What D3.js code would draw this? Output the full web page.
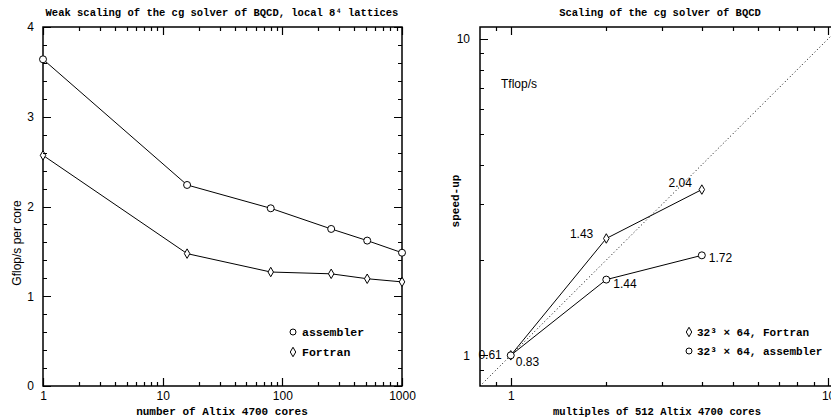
<!DOCTYPE html>
<html>
<head>
<meta charset="utf-8">
<script src="https://d3js.org/d3.v7.min.js"></script>
<style>
  body { margin: 0; background: #fff; }
  svg { display: block; }
  .lbl text { font-family: "Liberation Sans", Arial, sans-serif; font-size: 12px; fill: #000; }
  .mono { font-family: "Liberation Mono", "DejaVu Sans Mono", monospace; font-weight: bold; fill: #000; }
  .sans { font-family: "Liberation Sans", Arial, sans-serif; fill: #000; }
</style>
</head>
<body>
<svg id="plot"></svg>
<script>
// left panel: weak scaling, Gflop/s per core
var cores = [1, 16, 80, 256, 512, 1000];
var assemblerGflops = [3.64, 2.24, 1.98, 1.75, 1.62, 1.485];
var fortranGflops = [2.57, 1.475, 1.27, 1.25, 1.195, 1.16];

var leftXMajor = [1, 10, 100, 1000];
var leftXMinor = [2, 3, 4, 5, 6, 7, 8, 9, 20, 30, 40, 50, 60, 70, 80, 90, 200, 300, 400, 500, 600, 700, 800, 900];
var leftYMajor = [0, 1, 2, 3, 4];
var leftYMinor = [0.2, 0.4, 0.6, 0.8, 1.2, 1.4, 1.6, 1.8, 2.2, 2.4, 2.6, 2.8, 3.2, 3.4, 3.6, 3.8];

// right panel: speed-up, with Tflop/s labels
var multiples = [1, 2, 4];
var fortranSpeedup = [1, 2.34, 3.34];
var assemblerSpeedup = [1, 1.735, 2.07];
var fortranTflops = ["0.61", "1.43", "2.04"];
var assemblerTflops = ["0.83", "1.44", "1.72"];

var rightMajor = [1, 10];
var rightMinor = [0.9, 2, 3, 4, 5, 6, 7, 8, 9];

var svg = d3.select("#plot").attr("width", 831).attr("height", 420);

var diamond = d3.symbol().type(d3.symbolDiamond).size(26);

var xL = d3.scaleLog().domain([1, 1000]).range([43, 402]);
var yL = d3.scaleLinear().domain([0, 4]).range([386, 27]);
var xR = d3.scaleLog().domain([0.8, 10.9]).range([480, 840]);
var yR = d3.scaleLog().domain([0.8, 10.9]).range([386, 27]);

// labels and frame
var makeFrame = function(g, xScale, yScale, xMajor, yMajor, yPad)
{
    var x0 = xScale.range()[0], x1 = xScale.range()[1];
    var y0 = yScale.range()[0], y1 = yScale.range()[1];

    var bx = g.append("g").classed("lbl", true)
        .attr("transform", "translate(0," + y0 + ")")
        .call(d3.axisBottom(xScale).tickValues(xMajor).tickSize(0).tickPadding(5).tickFormat(d3.format("d")));
    bx.select(".domain").remove();
    var ly = g.append("g").classed("lbl", true)
        .attr("transform", "translate(" + x0 + ",0)")
        .call(d3.axisLeft(yScale).tickValues(yMajor).tickSize(0).tickPadding(yPad).tickFormat(d3.format("d")));
    ly.select(".domain").remove();

    g.append("path")
        .attr("d", "M" + x0 + "," + y1 + "H" + x1 + "V" + y0 + "H" + x0 + "Z")
        .attr("fill", "none").attr("stroke", "#000").attr("stroke-width", 1.5);
};

// short inward marks along one side of the frame, as one path
var drawMarks = function(g, vals, scale, side, pos, len)
{
    var d = vals.map(function(v) {
        var p = Math.round(scale(v)) + 0.5;
        if (side == "bottom") return "M" + p + "," + pos + "V" + (pos - len);
        if (side == "top") return "M" + p + "," + pos + "V" + (pos + len);
        if (side == "left") return "M" + pos + "," + p + "H" + (pos + len);
        return "M" + pos + "," + p + "H" + (pos - len);
    }).join("");
    g.append("path").attr("d", d)
        .attr("fill", "none").attr("stroke", "#000").attr("stroke-width", 1.2);
};

var makeMarks = function(g, xScale, yScale, xMajor, xMinor, yMajor, yMinor)
{
    var x0 = xScale.range()[0], x1 = xScale.range()[1];
    var y0 = yScale.range()[0], y1 = yScale.range()[1];
    drawMarks(g, xMajor, xScale, "bottom", y0, 8);
    drawMarks(g, xMinor, xScale, "bottom", y0, 4);
    drawMarks(g, xMajor, xScale, "top", y1, 8);
    drawMarks(g, xMinor, xScale, "top", y1, 4);
    drawMarks(g, yMajor, yScale, "left", x0, 8);
    drawMarks(g, yMinor, yScale, "left", x0, 4);
    drawMarks(g, yMajor, yScale, "right", x1, 8);
    drawMarks(g, yMinor, yScale, "right", x1, 4);
};

var drawSeries = function(g, xs, ys, xScale, yScale, marker)
{
    var line = d3.line()
        .x(function(d, i) { return xScale(xs[i]); })
        .y(function(d) { return yScale(d); });

    g.append("path")
        .datum(ys)
        .attr("d", line)
        .attr("fill", "none")
        .attr("stroke", "#000")
        .attr("stroke-width", 1);

    var pts = g.selectAll(null)
        .data(ys)
        .enter();

    if (marker == "circle") {
        pts.append("circle")
            .attr("cx", function(d, i) { return xScale(xs[i]); })
            .attr("cy", function(d) { return yScale(d); })
            .attr("r", 3.5)
            .attr("fill", "#fff").attr("stroke", "#000").attr("stroke-width", 1);
    } else {
        pts.append("path")
            .attr("d", diamond)
            .attr("transform", function(d, i) { return "translate(" + xScale(xs[i]) + "," + yScale(d) + ")"; })
            .attr("fill", "#fff").attr("stroke", "#000").attr("stroke-width", 1);
    }
};

//----- left panel
var left = svg.append("g");
makeFrame(left, xL, yL, leftXMajor, leftYMajor, 9);

var leftPlot = left.append("g");
drawSeries(leftPlot, cores, assemblerGflops, xL, yL, "circle");
drawSeries(leftPlot, cores, fortranGflops, xL, yL, "diamond");

left.append("text").classed("mono", true)
    .attr("x", 222).attr("y", 16).attr("text-anchor", "middle")
    .style("font-size", "10.5px")
    .text("Weak scaling of the cg solver of BQCD, local 8\u2074 lattices");

left.append("text").classed("mono", true)
    .attr("x", 222).attr("y", 415).attr("text-anchor", "middle")
    .style("font-size", "11px")
    .text("number of Altix 4700 cores");

left.append("text").classed("sans", true)
    .attr("transform", "translate(21,243) rotate(-90)")
    .attr("text-anchor", "middle")
    .style("font-size", "12px")
    .text("Gflop/s per core");

// legend
left.append("circle").attr("cx", 293).attr("cy", 332).attr("r", 3)
    .attr("fill", "#fff").attr("stroke", "#000");
left.append("path").attr("d", diamond).attr("transform", "translate(293,352)")
    .attr("fill", "#fff").attr("stroke", "#000");
left.append("text").classed("mono", true).attr("x", 302).attr("y", 336)
    .style("font-size", "11.5px").text("assembler");
left.append("text").classed("mono", true).attr("x", 302).attr("y", 356)
    .style("font-size", "11.5px").text("Fortran");

//----- right panel
var right = svg.append("g");
makeFrame(right, xR, yR, rightMajor, rightMajor, 10);

// ideal scaling
right.append("path")
    .datum([0.8, 10.9])
    .attr("d", d3.line().x(function(d) { return xR(d); }).y(function(d) { return yR(d); }))
    .attr("fill", "none").attr("stroke", "#000").attr("stroke-width", 1)
    .attr("stroke-dasharray", "1,2.5");

var rightPlot = right.append("g");
drawSeries(rightPlot, multiples, fortranSpeedup, xR, yR, "diamond");
drawSeries(rightPlot, multiples, assemblerSpeedup, xR, yR, "circle");

// Tflop/s labels next to points
var fOffsets = [[-9, 4, "end"], [-13, 0, "end"], [-10, -3, "end"]];
var aOffsets = [[5, 11, "start"], [7, 8, "start"], [7, 7, "start"]];
rightPlot.selectAll(null).data(fortranTflops).enter().append("text").classed("sans", true)
    .style("font-size", "12px")
    .attr("x", function(d, i) { return xR(multiples[i]) + fOffsets[i][0]; })
    .attr("y", function(d, i) { return yR(fortranSpeedup[i]) + fOffsets[i][1]; })
    .attr("text-anchor", function(d, i) { return fOffsets[i][2]; })
    .text(function(d) { return d; });
rightPlot.selectAll(null).data(assemblerTflops).enter().append("text").classed("sans", true)
    .style("font-size", "12px")
    .attr("x", function(d, i) { return xR(multiples[i]) + aOffsets[i][0]; })
    .attr("y", function(d, i) { return yR(assemblerSpeedup[i]) + aOffsets[i][1]; })
    .attr("text-anchor", function(d, i) { return aOffsets[i][2]; })
    .text(function(d) { return d; });

right.append("text").classed("sans", true)
    .attr("x", 501).attr("y", 88)
    .style("font-size", "12px")
    .text("Tflop/s");

right.append("text").classed("mono", true)
    .attr("x", 660).attr("y", 16).attr("text-anchor", "middle")
    .style("font-size", "10.5px")
    .text("Scaling of the cg solver of BQCD");

right.append("text").classed("mono", true)
    .attr("x", 657).attr("y", 415).attr("text-anchor", "middle")
    .style("font-size", "10.5px")
    .text("multiples of 512 Altix 4700 cores");

right.append("text").classed("mono", true)
    .attr("transform", "translate(459,201) rotate(-90)")
    .attr("text-anchor", "middle")
    .style("font-size", "11px")
    .text("speed-up");

// legend
right.append("path").attr("d", diamond).attr("transform", "translate(689,332)")
    .attr("fill", "#fff").attr("stroke", "#000");
right.append("circle").attr("cx", 689).attr("cy", 351).attr("r", 3)
    .attr("fill", "#fff").attr("stroke", "#000");
right.append("text").classed("mono", true).attr("x", 697).attr("y", 336)
    .style("font-size", "11px").text("32\u00b3 \u00d7 64, Fortran");
right.append("text").classed("mono", true).attr("x", 697).attr("y", 355)
    .style("font-size", "11px").text("32\u00b3 \u00d7 64, assembler");

// tick marks drawn last, on top of everything
var marks = svg.append("g");
makeMarks(marks, xL, yL, leftXMajor, leftXMinor, leftYMajor, leftYMinor);
makeMarks(marks, xR, yR, rightMajor, rightMinor, rightMajor, rightMinor);
</script>
</body>
</html>
